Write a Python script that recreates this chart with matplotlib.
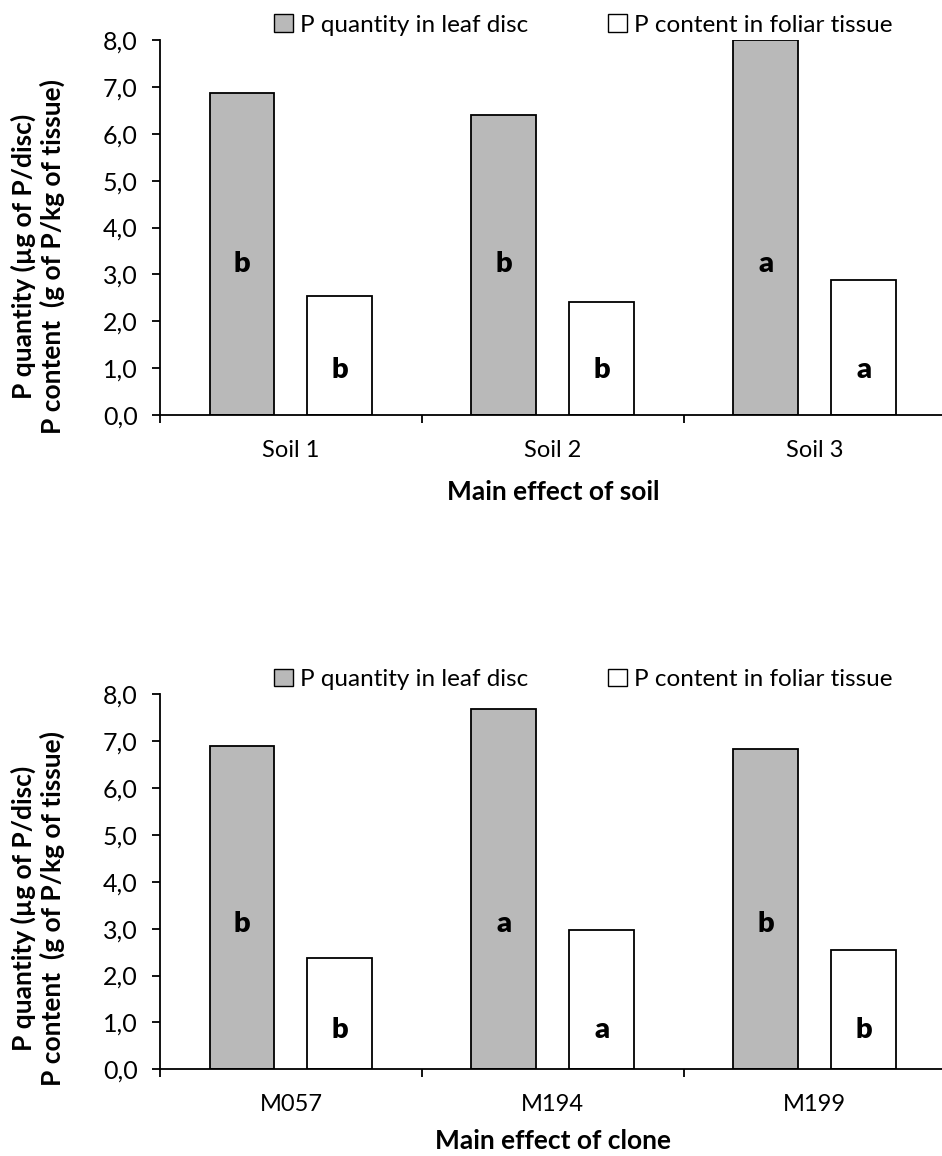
import numpy as np
import matplotlib
matplotlib.use("Agg")
import matplotlib.pyplot as plt
from matplotlib.patches import Patch
from matplotlib.ticker import FuncFormatter

plt.rcParams['font.family'] = ['Lato', 'DejaVu Sans']

# --- DATA ---
soil_labels = ["Soil 1", "Soil 2", "Soil 3"]
soil_disc = [6.86, 6.40, 8.00]
soil_tissue = [2.54, 2.41, 2.88]
soil_disc_letters = ["b", "b", "a"]
soil_tissue_letters = ["b", "b", "a"]

clone_labels = ["M057", "M194", "M199"]
clone_disc = [6.89, 7.68, 6.84]
clone_tissue = [2.37, 2.97, 2.54]
clone_disc_letters = ["b", "a", "b"]
clone_tissue_letters = ["b", "a", "b"]

legend_labels = ["P quantity in leaf disc", "P content in foliar tissue"]
ylabel = "P quantity (µg of P/disc)\nP content  (g of P/kg of tissue)"

GRAY = "#b9b9b9"
W = 0.248
OFF = 0.187


def draw_panel(ax, cats, disc, tissue, disc_let, tissue_let, xlabel,
               disc_let_y, tissue_let_y, xlabel_pad=14):
    x = np.arange(len(cats)) + 0.5
    ax.bar(x - OFF, disc, W, color=GRAY, edgecolor="black", linewidth=1.3, zorder=2)
    ax.bar(x + OFF, tissue, W, color="white", edgecolor="black", linewidth=1.3, zorder=2)
    for xi, l in zip(x, disc_let):
        ax.text(xi - OFF, disc_let_y, l, ha="center", va="center",
                fontsize=21, fontweight="heavy")
    for xi, l in zip(x, tissue_let):
        ax.text(xi + OFF, tissue_let_y, l, ha="center", va="center",
                fontsize=21, fontweight="heavy")

    ax.set_xlim(0, len(cats))
    ax.set_ylim(0, 8)
    ax.set_yticks(np.arange(0, 9, 1))
    ax.yaxis.set_major_formatter(FuncFormatter(lambda v, p: f"{v:.1f}".replace(".", ",")))
    ax.set_xticks(np.arange(0, len(cats) + 1))
    ax.set_xticklabels([])
    ax.set_xticks(x, minor=True)
    ax.set_xticklabels(cats, minor=True)
    ax.tick_params(axis="x", which="major", direction="out", length=6, width=1.3)
    ax.tick_params(axis="x", which="minor", length=0, pad=18, labelsize=17)
    ax.tick_params(axis="y", direction="out", length=6, width=1.3, pad=10, labelsize=18)
    for s in ["top", "right"]:
        ax.spines[s].set_visible(False)
    for s in ["left", "bottom"]:
        ax.spines[s].set_linewidth(1.3)
    ax.set_xlabel(xlabel, fontsize=19, fontweight="bold", labelpad=xlabel_pad)

    handles = [Patch(facecolor=GRAY, edgecolor="black", linewidth=1),
               Patch(facecolor="white", edgecolor="black", linewidth=1)]
    ax.legend(handles, legend_labels, loc="center", bbox_to_anchor=(0.539, 1.04),
              ncol=2, frameon=False, fontsize=17.5, handlelength=0.75, handleheight=0.75,
              handletextpad=0.3, columnspacing=3.3, borderaxespad=0)


fig = plt.figure(figsize=(9.42, 11.56), dpi=100)
ax1 = fig.add_axes([0.1699, 0.641, 0.834, 0.3244])
ax2 = fig.add_axes([0.1699, 0.075, 0.834, 0.3244])

draw_panel(ax1, soil_labels, soil_disc, soil_tissue, soil_disc_letters,
           soil_tissue_letters, "Main effect of soil", 3.22, 0.96)
draw_panel(ax2, clone_labels, clone_disc, clone_tissue, clone_disc_letters,
           clone_tissue_letters, "Main effect of clone", 3.1, 0.83, xlabel_pad=10)

fig.text(38 / 942, 1 - 256 / 1156, ylabel, rotation=90, ha="center", va="center",
         fontsize=19, fontweight="bold", multialignment="center", linespacing=1.2)
fig.text(38 / 942, 1 - 908 / 1156, ylabel, rotation=90, ha="center", va="center",
         fontsize=19, fontweight="bold", multialignment="center", linespacing=1.2)

fig.savefig("out.png", dpi=100)
